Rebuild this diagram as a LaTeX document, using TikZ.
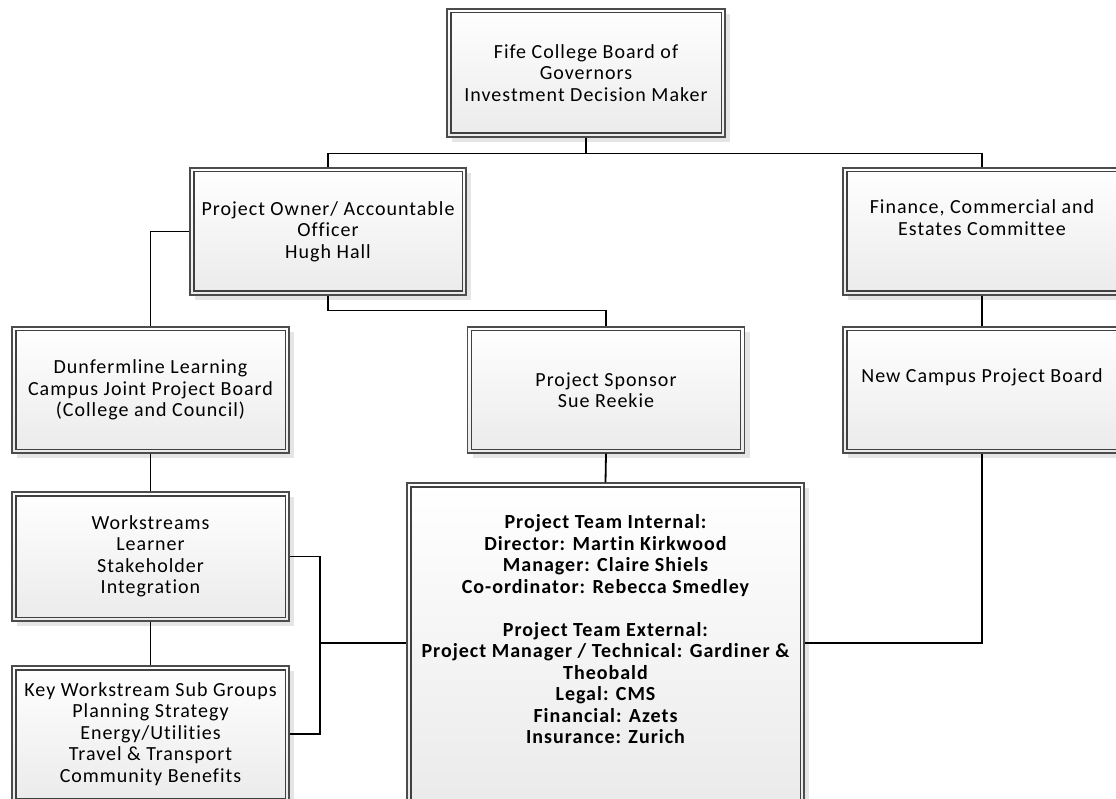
\documentclass[tikz,border=0pt]{standalone}
\usepackage{fontspec}
\setmainfont{Carlito}[LetterSpace=5, Ligatures={NoCommon}]
\usetikzlibrary{shadows}
\tikzset{
  orgbox/.style={draw=black!70, line width=1.1pt, inner sep=0pt, align=center,
    top color=white, bottom color=black!8,
    drop shadow={shadow xshift=5pt, shadow yshift=-5pt, fill=black!10, opacity=1},
    font=\fontsize{20}{21.5}\selectfont},
  innerline/.style={draw=black!75, line width=1.1pt},
  conn/.style={draw=black, line width=1.8pt}
}
\begin{document}
\begin{tikzpicture}[x=1pt,y=-1pt]
\useasboundingbox (0,0) rectangle (1116,799);
\clip (0,0) rectangle (1116,799);
% boxes
\node[orgbox, minimum width=278pt, minimum height=128pt] (top) at (586,73)
  {Fife College Board of\\Governors\\Investment Decision Maker};
\node[orgbox, minimum width=276pt, minimum height=127pt] (owner) at (328,231.5)
  {Project Owner/ Accountable\\Officer\\Hugh Hall};
\node[orgbox, minimum width=278pt, minimum height=127pt] (finance) at (982,231.5)
  {Finance, Commercial and\\Estates Committee\\\strut};
\node[orgbox, minimum width=277pt, minimum height=126pt] (dunf) at (150.5,390)
  {Dunfermline Learning\\Campus Joint Project Board\\(College and Council)};
\node[orgbox, minimum width=277pt, minimum height=126pt] (sponsor) at (606,390)
  {Project Sponsor\\Sue Reekie};
\node[orgbox, minimum width=278pt, minimum height=126pt] (newcampus) at (982,390)
  {New Campus Project Board\\\strut};
\node[orgbox, minimum width=277pt, minimum height=129pt] (work) at (150.5,556.5)
  {Workstreams\\Learner\\Stakeholder\\Integration};
\node[orgbox, minimum width=277pt, minimum height=136pt] (key) at (150.5,734)
  {Key Workstream Sub Groups\\Planning Strategy\\Energy/Utilities\\Travel \& Transport\\Community Benefits};
\node[orgbox, minimum width=397pt, minimum height=320pt, font=\fontsize{20}{21.5}\selectfont\bfseries] (team) at (605.5,643)
  {Project Team Internal:\\Director: Martin Kirkwood\\Manager: Claire Shiels\\Co-ordinator: Rebecca Smedley\\\strut\\
   Project Team External:\\Project Manager / Technical: Gardiner \&\\Theobald\\Legal: CMS\\Financial: Azets\\Insurance: Zurich\\\strut};
% inner frames
\foreach \n in {top,owner,finance,dunf,sponsor,newcampus,work,key,team}
  \draw[innerline] ([xshift=4.5pt,yshift=4.5pt]\n.south west) rectangle ([xshift=-4.5pt,yshift=-4.5pt]\n.north east);
% connectors
\draw[conn] (top.south) -- ++(0,16) -| (owner.north);
\draw[conn] (top.south) -- ++(0,16) -| (finance.north);
\draw[conn] (owner.west) -| (dunf.north);
\draw[conn] (owner.south) -- ++(0,15) -| (sponsor.north);
\draw[conn] (finance.south) -- (newcampus.north);
\draw[conn] (sponsor.south) -- (team.north);
\draw[conn] (dunf.south) -- (work.north);
\draw[conn] (work.south) -- (key.north);
\coordinate (jl) at (320,643);
\draw[conn] (work.east) -| (jl) |- (key.east);
\draw[conn] (jl) -- (team.west);
\draw[conn] (team.east) -| (newcampus.south);
\end{tikzpicture}
\end{document}
